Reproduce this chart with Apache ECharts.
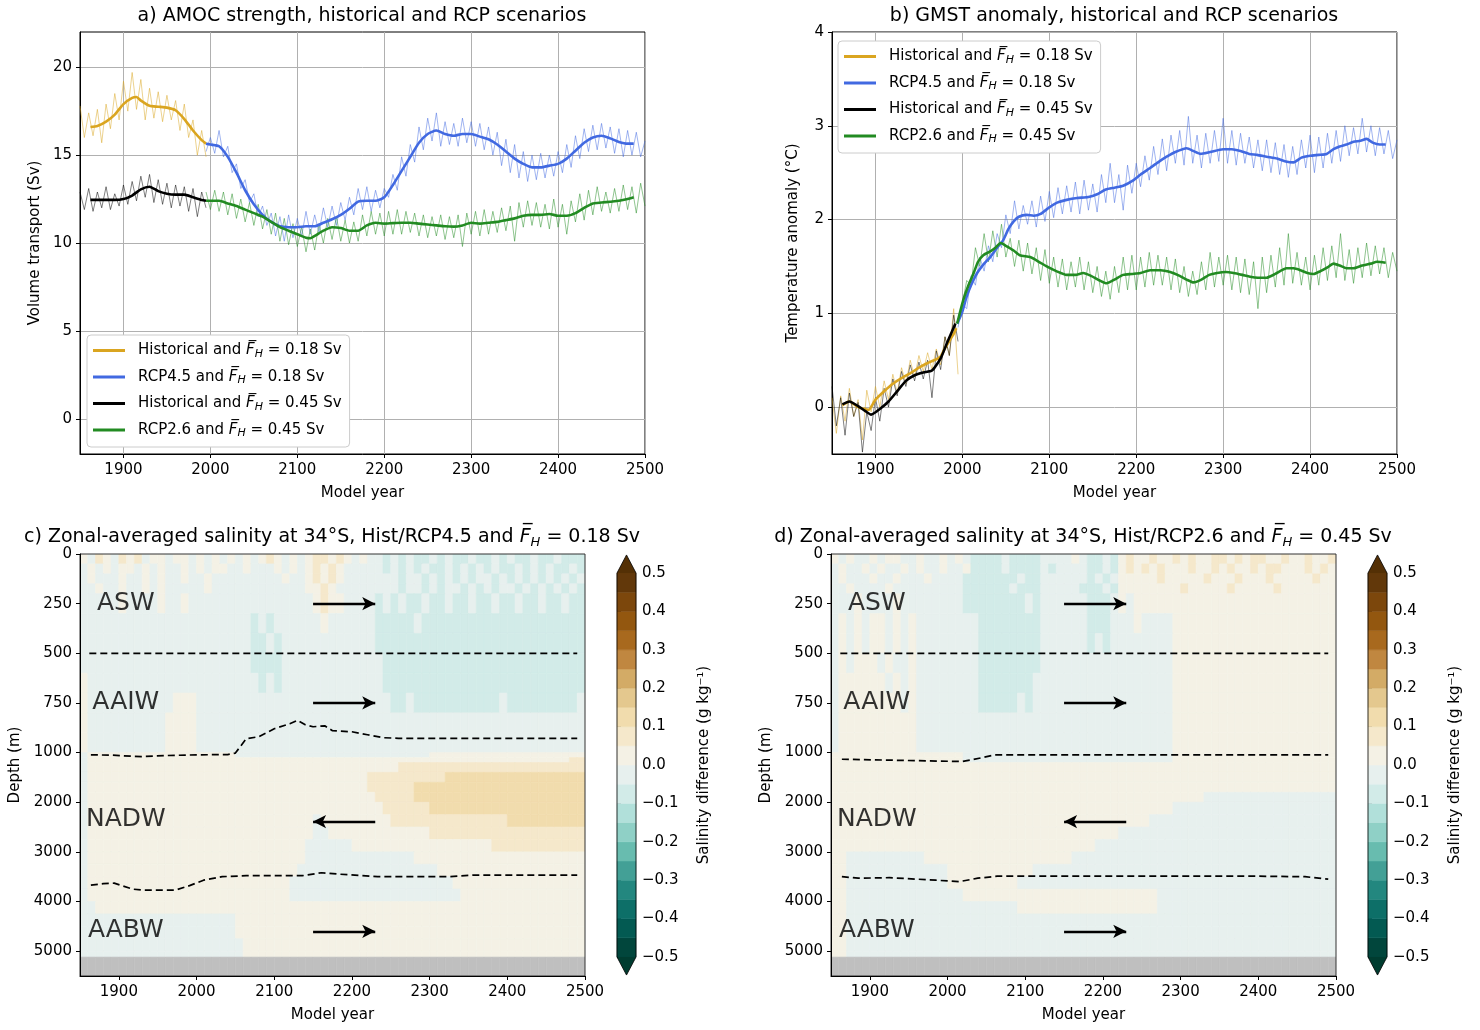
<!DOCTYPE html>
<html>
<head>
<meta charset="utf-8">
<title>AMOC, GMST and salinity at 34S</title>
<script src="https://cdn.jsdelivr.net/npm/echarts@6.0.0/dist/echarts.min.js"></script>
<style>
  html, body { margin: 0; padding: 0; background: #fff; }
  #main { width: 1480px; height: 1030px; }
</style>
</head>
<body>
<div id="main"></div>
<script>
// ---------------- data ----------------
var yearTicks = [1900, 2000, 2100, 2200, 2300, 2400, 2500];
var amocTicks = [0, 5, 10, 15, 20];
var gmstTicks = [0, 1, 2, 3, 4];
var depthTicks = [0, 250, 500, 750, 1000, 2000, 3000, 4000, 5000];
var contourLevels = [-0.5, -0.45, -0.4, -0.35, -0.3, -0.25, -0.2, -0.15, -0.1, -0.05, 0,
                     0.05, 0.1, 0.15, 0.2, 0.25, 0.3, 0.35, 0.4, 0.45, 0.5];

// yearly model output, read every 5 years
var histStart = 1850, rcpStart = 1995, rawStep = 5;

var amocHist018Raw = [17.8, 16.0, 17.4, 16.1, 17.6, 15.7, 17.9, 16.5, 18.5, 17.0, 19.2, 17.5, 19.7, 17.6, 19.3,
                      17.0, 18.8, 17.1, 18.6, 16.9, 18.4, 17.0, 18.1, 16.4, 17.9, 16.0, 17.0, 15.0, 16.4, 14.9];
var amocHist045Raw = [12.9, 11.9, 13.1, 11.8, 12.9, 12.0, 13.2, 11.9, 12.8, 12.1, 13.3, 12.2, 13.5, 12.4, 13.8,
                      12.6, 13.9, 12.3, 13.6, 12.2, 13.4, 12.0, 13.3, 12.1, 13.2, 11.8, 13.1, 11.5, 12.9, 12.0];
var amocRcp45Raw = [
  15.2, 16.0, 15.1, 16.4, 14.9, 15.5, 14.0, 14.5, 13.1, 13.6,
  12.3, 12.8, 11.5, 12.1, 11.0, 11.7, 10.4, 11.5, 10.1, 11.6,
  10.3, 11.4, 10.4, 11.8, 10.5, 11.6, 10.6, 12.0, 10.9, 12.1,
  11.0, 12.3, 11.3, 12.6, 11.6, 13.1, 11.9, 13.2, 11.8, 13.0,
  12.0, 13.1, 12.6, 13.9, 13.0, 14.9, 13.8, 15.6, 14.6, 16.6,
  15.3, 17.1, 15.8, 17.4, 15.5, 16.9, 15.6, 16.8, 15.5, 17.1,
  15.7, 16.9, 15.5, 16.8, 15.3, 16.6, 15.0, 16.3, 14.4, 15.9,
  14.0, 15.6, 13.7, 15.2, 13.5, 15.0, 13.6, 15.1, 13.7, 15.0,
  13.8, 15.2, 14.0, 15.6, 14.3, 16.1, 14.8, 16.5, 15.2, 16.7,
  15.3, 16.8, 15.4, 16.6, 15.1, 16.5, 14.9, 16.4, 15.0, 16.3,
  14.9, 15.8];
var amocRcp26Raw = [
  12.9, 11.9, 13.0, 11.8, 12.9, 11.6, 12.8, 11.4, 12.5, 11.2,
  12.3, 11.0, 12.2, 10.8, 11.9, 10.5, 11.7, 10.1, 11.4, 9.9,
  11.1, 9.8, 10.9, 9.5, 10.8, 9.6, 11.1, 10.0, 11.4, 10.2,
  11.5, 10.1, 11.3, 10.0, 11.2, 10.1, 11.6, 10.4, 11.8, 10.5,
  11.7, 10.4, 11.8, 10.5, 11.9, 10.5, 11.8, 10.6, 11.7, 10.4,
  11.6, 10.3, 11.5, 10.4, 11.6, 10.2, 11.5, 10.3, 11.6, 9.8,
  11.7, 10.5, 11.8, 10.4, 11.9, 10.5, 11.8, 10.6, 12.0, 10.7,
  12.1, 10.1, 12.3, 10.9, 12.4, 11.0, 12.3, 10.9, 12.2, 10.8,
  12.5, 10.9, 12.2, 10.5, 12.4, 11.2, 12.8, 11.3, 13.0, 11.6,
  13.2, 11.8, 12.9, 11.7, 13.1, 11.8, 13.3, 11.9, 13.2, 11.7,
  13.4, 12.1];

var gmstHist018Raw = [0.1, -0.28, 0.12, -0.15, 0.2, -0.1, 0.08, -0.35, 0.18, -0.05, 0.22, 0.0, 0.28, 0.08, 0.35,
                      0.15, 0.42, 0.25, 0.5, 0.32, 0.55, 0.38, 0.58, 0.4, 0.62, 0.45, 0.75, 0.55, 1.05, 0.35];
var gmstHist045Raw = [0.22, -0.2, 0.1, -0.3, 0.15, -0.1, 0.05, -0.48, -0.05, -0.25, 0.1, -0.15, 0.2, 0.0, 0.3,
                      0.12, 0.38, 0.22, 0.45, 0.28, 0.48, 0.3, 0.5, 0.1, 0.6, 0.4, 0.75, 0.55, 0.98, 0.7];
var gmstRcp45Raw = [
  0.85, 1.1, 1.05, 1.4, 1.3, 1.6, 1.45, 1.72, 1.55, 1.85,
  1.7, 2.05, 1.85, 2.2, 1.9, 2.15, 1.95, 2.2, 1.92, 2.25,
  1.98, 2.3, 2.02, 2.34, 2.06, 2.36, 2.08, 2.4, 2.06, 2.42,
  2.1, 2.38, 2.08, 2.48, 2.18, 2.6, 2.18, 2.48, 2.1, 2.58,
  2.28, 2.6, 2.35, 2.68, 2.42, 2.78, 2.48, 2.86, 2.52, 2.9,
  2.6, 2.95, 2.58, 3.1, 2.6, 2.9, 2.55, 2.92, 2.6, 2.95,
  2.62, 3.08, 2.6, 2.95, 2.58, 2.92, 2.6, 2.88, 2.55, 2.85,
  2.52, 2.85, 2.5, 2.82, 2.48, 2.8, 2.45, 2.78, 2.48, 2.85,
  2.55, 2.9, 2.5, 2.88, 2.55, 2.92, 2.6, 2.95, 2.62, 3.0,
  2.68, 2.98, 2.7, 3.08, 2.72, 3.0, 2.68, 2.98, 2.7, 2.95,
  2.65, 2.85];
var gmstRcp26Raw = [
  0.9, 1.1, 1.35, 1.3, 1.7, 1.5, 1.85, 1.55, 1.88, 1.6,
  1.95, 1.6, 1.8, 1.5, 1.78, 1.45, 1.75, 1.42, 1.7, 1.35,
  1.68, 1.32, 1.6, 1.28, 1.58, 1.25, 1.55, 1.28, 1.6, 1.25,
  1.55, 1.22, 1.5, 1.18, 1.45, 1.15, 1.5, 1.22, 1.6, 1.25,
  1.62, 1.25, 1.6, 1.28, 1.65, 1.3, 1.62, 1.3, 1.6, 1.25,
  1.58, 1.22, 1.5, 1.18, 1.45, 1.2, 1.55, 1.25, 1.65, 1.28,
  1.6, 1.3, 1.62, 1.25, 1.6, 1.22, 1.58, 1.2, 1.55, 1.05,
  1.6, 1.22, 1.62, 1.28, 1.7, 1.3, 1.85, 1.32, 1.65, 1.3,
  1.6, 1.25, 1.62, 1.3, 1.7, 1.35, 1.72, 1.38, 1.85, 1.35,
  1.68, 1.32, 1.7, 1.38, 1.75, 1.4, 1.72, 1.42, 1.7, 1.38,
  1.65, 1.45];

// smoothed curves, [year, value]
var amocHist018 = [[1862, 16.6], [1870, 16.65], [1880, 16.9], [1890, 17.3], [1900, 17.9], [1910, 18.25], [1915, 18.3],
  [1920, 18.1], [1930, 17.8], [1940, 17.75], [1950, 17.7], [1960, 17.55], [1970, 17.05], [1980, 16.4], [1990, 15.85], [1995, 15.65]];
var amocHist045 = [[1862, 12.45], [1870, 12.45], [1880, 12.45], [1890, 12.45], [1900, 12.5], [1910, 12.7], [1920, 13.05],
  [1930, 13.2], [1940, 12.95], [1950, 12.8], [1960, 12.75], [1970, 12.75], [1980, 12.6], [1990, 12.45], [1995, 12.4]];
var amocRcp45 = [[1995, 15.65], [2000, 15.6], [2010, 15.5], [2020, 14.9], [2030, 14.0], [2040, 13.0], [2050, 12.2],
  [2060, 11.6], [2070, 11.2], [2080, 10.95], [2090, 10.9], [2100, 10.9], [2110, 10.95], [2120, 10.95], [2130, 11.15],
  [2140, 11.35], [2150, 11.6], [2160, 11.95], [2170, 12.35], [2180, 12.4], [2190, 12.4], [2200, 12.6], [2210, 13.3],
  [2220, 14.1], [2230, 14.9], [2240, 15.7], [2250, 16.2], [2260, 16.4], [2270, 16.2], [2280, 16.1], [2290, 16.2],
  [2300, 16.2], [2310, 16.05], [2320, 15.9], [2330, 15.6], [2340, 15.2], [2350, 14.8], [2360, 14.5], [2370, 14.3],
  [2380, 14.3], [2390, 14.4], [2400, 14.5], [2410, 14.8], [2420, 15.25], [2430, 15.7], [2440, 16.0], [2450, 16.1],
  [2460, 15.95], [2470, 15.75], [2480, 15.65], [2487, 15.65]];
var amocRcp26 = [[1995, 12.4], [2000, 12.4], [2010, 12.4], [2020, 12.25], [2030, 12.1], [2040, 11.9], [2050, 11.7],
  [2060, 11.5], [2070, 11.2], [2080, 10.9], [2090, 10.7], [2100, 10.5], [2110, 10.3], [2115, 10.27], [2120, 10.4],
  [2130, 10.7], [2140, 10.9], [2150, 10.85], [2160, 10.7], [2170, 10.7], [2180, 11.0], [2190, 11.15], [2200, 11.1],
  [2210, 11.13], [2220, 11.15], [2230, 11.15], [2240, 11.1], [2250, 11.05], [2260, 11.0], [2270, 10.95], [2280, 10.93],
  [2290, 11.0], [2300, 11.15], [2310, 11.1], [2320, 11.15], [2330, 11.2], [2340, 11.3], [2350, 11.4], [2360, 11.55],
  [2370, 11.6], [2380, 11.6], [2390, 11.65], [2400, 11.55], [2410, 11.55], [2420, 11.7], [2430, 12.0], [2440, 12.25],
  [2450, 12.3], [2460, 12.35], [2470, 12.4], [2480, 12.5], [2487, 12.6]];

var gmstHist018 = [[1862, 0.02], [1870, 0.06], [1880, 0.0], [1892, -0.03], [1900, 0.08], [1910, 0.17], [1920, 0.25],
  [1930, 0.31], [1940, 0.36], [1950, 0.42], [1960, 0.47], [1970, 0.51], [1975, 0.54], [1980, 0.63], [1990, 0.78], [1993, 0.84]];
var gmstHist045 = [[1862, 0.03], [1870, 0.06], [1880, 0.01], [1888, -0.04], [1895, -0.08], [1905, -0.02], [1915, 0.06],
  [1925, 0.17], [1935, 0.28], [1945, 0.34], [1955, 0.37], [1965, 0.39], [1975, 0.52], [1983, 0.7], [1992, 0.89]];
var gmstRcp45 = [[1994, 0.89], [2000, 1.02], [2005, 1.18], [2010, 1.3], [2017, 1.43], [2025, 1.53], [2032, 1.6],
  [2040, 1.7], [2047, 1.78], [2053, 1.9], [2059, 1.98], [2065, 2.03], [2074, 2.05], [2082, 2.04], [2090, 2.06],
  [2100, 2.13], [2109, 2.18], [2120, 2.21], [2132, 2.23], [2145, 2.24], [2155, 2.27], [2165, 2.32], [2175, 2.34],
  [2185, 2.36], [2197, 2.42], [2205, 2.48], [2216, 2.55], [2225, 2.61], [2235, 2.67], [2245, 2.72], [2258, 2.76],
  [2266, 2.73], [2274, 2.7], [2285, 2.72], [2300, 2.75], [2310, 2.75], [2320, 2.73], [2330, 2.7], [2339, 2.69],
  [2350, 2.67], [2362, 2.65], [2372, 2.62], [2381, 2.61], [2390, 2.66], [2400, 2.68], [2410, 2.69], [2419, 2.7],
  [2427, 2.75], [2434, 2.78], [2442, 2.8], [2450, 2.83], [2458, 2.84], [2465, 2.86], [2472, 2.82], [2480, 2.8], [2487, 2.8]];
var gmstRcp26 = [[1994, 0.89], [2001, 1.14], [2007, 1.3], [2013, 1.43], [2018, 1.55], [2024, 1.62], [2032, 1.66],
  [2038, 1.7], [2044, 1.75], [2050, 1.72], [2059, 1.67], [2066, 1.62], [2078, 1.6], [2088, 1.55], [2097, 1.5],
  [2108, 1.45], [2120, 1.41], [2130, 1.41], [2139, 1.43], [2148, 1.4], [2158, 1.35], [2166, 1.32], [2175, 1.36],
  [2185, 1.41], [2195, 1.42], [2205, 1.43], [2216, 1.46], [2228, 1.46], [2239, 1.44], [2250, 1.4], [2258, 1.36],
  [2266, 1.33], [2275, 1.36], [2284, 1.41], [2293, 1.43], [2303, 1.44], [2312, 1.43], [2322, 1.41], [2331, 1.39],
  [2340, 1.38], [2350, 1.38], [2360, 1.42], [2373, 1.48], [2381, 1.48], [2389, 1.46], [2397, 1.43], [2404, 1.42],
  [2412, 1.45], [2420, 1.49], [2427, 1.53], [2434, 1.51], [2442, 1.48], [2450, 1.48], [2460, 1.51], [2470, 1.53],
  [2477, 1.55], [2487, 1.54]];

// salinity difference fields: 10-year columns from 1850, rows between these depths (m)
var fieldStart = 1850, fieldStep = 10;
var depthEdges = [0, 50, 100, 150, 200, 300, 400, 500, 600, 700, 800, 900, 1000, 1100, 1200, 1400, 1600,
                  1800, 2000, 2250, 2500, 2750, 3000, 3250, 3500, 3750, 4000, 4250, 4500, 4750, 5000, 5120, 5500];
// T: -0.1..-0.05, t: -0.05..0, c: 0..0.05, y: 0.05..0.1, Y: 0.1..0.15, g: sea floor
var levelCode = { T: -0.075, t: -0.025, c: 0.025, y: 0.075, Y: 0.125, g: 99 };

var salinityC = [
  'ctyctycytc ctcctctctc tctcyctctc yycyctcttT tTtTTtTtTT tTTtTtTTtT TtTTT',
  'tctctcctct cttctctcct tctttctctc ycyctttttT tTtTtTTtTt TtTtTTtTtT tTTtT',
  'tctttcttct cttcttcttt ttttttcttc ycyctttttt tTttTtTtTt TttTtTtTtT tTtTt',
  'ttcttcttct ctttttcttt tttttttttc cycttttttt tTttTtTttT tTtTttTtTt TtTtT',
  'tttttctttt cttctttttt tttttttttt cyccttttTt TtTTtTTtTT tTTtTTtTTt TTtTT',
  'tttttttttt tttttttttt ttTtTttttt tcttttttTT TTTtTTTTTT TTTTTTTTTT TTTTT',
  'tttttttttt tttttttttt ttTTtTtttt ttttttttTT TTTTTTTTTT TTTTTTTTTT TTTTT',
  'tttttttttt tttttttttt ttTTTTtttt tttttttttT TTTTTTTTTT TTTTTTTTTT TTTTT',
  'cttttttttt tttttttttt tttTtTtttt tttttttttT TTTTTTTTTT TTTTTTTTTT TTTTT',
  'cttttttttt ttcccttttt tttttttttt tttttttttt TTtTTTTTTT TTTTtTTTTT TTTTt',
  'cttttttttt tccccttttt tttttttttt tttttttttt tttttttttt tttttttttt ttttt',
  'cttttttttt tccccttttt tttttttttt tttttttttt tttttttttt tttttttttt ttttt',
  'tccccccccc cccccccccc tttttttttt tttttttttt tttttccccc cccccccccc ccccc',
  'tccccccccc cccccccccc cccccccccc cccccccccc cccccccccc cccccccccc cccyy',
  'tccccccccc cccccccccc cccccccccc cccccccccc cyyyyyyyyy yyyyyyyyyy yyyyy',
  'tccccccccc cccccccccc cccccccccc cccccccyyy yyyyyyyYYY YYYYYYYYYY YYYYY',
  'tccccccccc cccccccccc cccccccccc cccccccyyy yyyYYYYYYY YYYYYYYYYY YYYYY',
  'tccccccccc cccccccccc cccccccccc ccccccccyy yyyYYYYYYY YYYYYYYYYY YYYYY',
  'tccccccccc cccccccccc cccccccccc cccccccccy yyyyyYYYYY YYYYYYYYYY YYYYY',
  'tccccccccc cccccccccc cccccccccc tccccccccc yyyyyyyyyy yyyyyYYYYY YYYYY',
  'tccccccccc cccccccccc cccccccccc ttcccccccc cccccyyyyy yyyyyyyyyy yyyyy',
  'tccccccccc cccccccccc ccccccccct tttttccccc cccccccccc cccyyyyyyy yyyyy',
  'tccccccccc cccccccccc ccccccccct tttttttttt tttccccccc cccccccccc ccccc',
  'tccccccccc cccccccccc cccccccctt tttttttttt ttttttcccc cccccccccc ccccc',
  'tccccccccc cccccccccc cccccccttt tttttttttt ttttttttcc cccccccccc ccccc',
  'tccccccccc cccccccccc cccccccttt tttttttttt tttttttttc cccccccccc ccccc',
  'ttcccccccc cccccccccc cccccccccc cccccccccc cccccccccc cccccccccc ccccc',
  'tttttttttt tttttttttt cccccccccc cccccccccc cccccccccc cccccccccc ccccc',
  'tttttttttt tttttttttt cccccccccc cccccccccc cccccccccc cccccccccc ccccc',
  'tttttttttt tttttttttt tccccccccc cccccccccc cccccccccc cccccccccc ccccc',
  'tttttttttt tttttttttt tccccccccc cccccccccc cccccccccc cccccccccc ccccc',
  'gggggggggg gggggggggg gggggggggg gggggggggg gggggggggg gggggggggg ggggg'
];
var salinityD = [
  'ctcttctcct tcttctctTT TTtTTTTttt tctTTtTcyc cyccycyccy ycycyyccyc cyccy',
  'tcttctcttc tcttcttcTT TTtTTTTtTt tttTTtTcyc ycycccyccy cyccycyycc cycyc',
  'tctttcttct ttcttttTTT TTTTtTTttt tttTtTtccc ccycccccyc ccycccyccc ccycc',
  'ttcttttctt tttttttTTT TTTtTTTttt ttTTTtTccc cccccycccc cycccccycc ccccc',
  'tttcttttct tttttttTTT TTTTTtTttt tttTTTtctc cccccccccc cccccccccc ccccc',
  'tctctcctct cttttttttT TTTTTTTttt tttTTTtttc ttttcccccc cccccccccc ccccc',
  'tctctcctct cttttttttT TTTTTTTttt tttTtTtttt ttttcccccc cccccccccc ccccc',
  'tctccctctt cttttttttT TTTTTTTttt tttttttttt ttttcccccc cccccccccc ccccc',
  'tcccccctct cttttttttT TTTTTTtttt tttttttttt ttttcccccc cccccccccc ccccc',
  'tcccccccct cttttttttT TTTTtTtttt tttttttttt ttttcccccc cccccccccc ccccc',
  'tccccccccc cttttttttt tttttttttt tttttttttt ttttcccccc cccccccccc ccccc',
  'tccccccccc cttttttttt tttttttttt tttttttttt ttttcccccc cccccccccc ccccc',
  'cccccccccc cccccccttt tttttttttt tttttttttt ttttcccccc cccccccccc ccccc',
  'cccccccccc cccccccttt tttttttttt tttttttttt ttttcccccc cccccccccc ccccc',
  'cccccccccc cccccccccc cccccccccc cccccccccc cccccccccc cccccccccc ccccc',
  'cccccccccc cccccccccc cccccccccc cccccccccc cccccccccc cccccccccc ccccc',
  'cccccccccc cccccccccc cccccccccc cccccccccc cccccccccc cccccccccc ccccc',
  'cccccccccc cccccccccc cccccccccc cccccccccc cccccccctt tttttttttt ttttt',
  'cccccccccc cccccccccc cccccccccc cccccccccc cccctttttt tttttttttt ttttt',
  'cccccccccc cccccccccc cccccccccc cccccccccc cttttttttt tttttttttt ttttt',
  'cccccccccc cccccccccc cccccccccc cccccccttt tttttttttt tttttttttt ttttt',
  'cccccccccc cccccccccc cccccccccc cccctttttt tttttttttt tttttttttt ttttt',
  'cctttttttt ttcccccccc cccccccccc cttttttttt tttttttttt tttttttttt ttttt',
  'cctttttttt tttttccccc cccccctttt tttttttttt tttttttttt tttttttttt ttttt',
  'cctttttttt tttttccccc cccctttttt tttttttttt tttttttttt tttttttttt ttttt',
  'cctttttttt tttttttccc cccccccccc cccccccccc cctttttttt tttttttttt ttttt',
  'cctttttttt tttttttttt ttttcccccc cccccccccc cctttttttt tttttttttt ttttt',
  'cctttttttt tttttttttt tttttttttt tttttttttt tttttttttt tttttttttt ttttt',
  'cctttttttt tttttttttt tttttttttt tttttttttt tttttttttt tttttttttt ttttt',
  'cctttttttt tttttttttt tttttttttt tttttttttt tttttttttt tttttttttt ttttt',
  'cctttttttt tttttttttt tttttttttt tttttttttt tttttttttt tttttttttt ttttt',
  'gggggggggg gggggggggg gggggggggg gggggggggg gggggggggg gggggggggg ggggg'
];

// water mass boundaries, [year, depth]
var bound1C = [[1862, 500], [2490, 500]];
var bound2C = [[1864, 1047], [1890, 1050], [1918, 1075], [1930, 1080], [1960, 1060], [2000, 1045], [2040, 1040],
  [2050, 1010], [2064, 930], [2080, 920], [2100, 880], [2120, 855], [2130, 837], [2140, 860], [2150, 870],
  [2165, 865], [2175, 890], [2200, 895], [2220, 910], [2240, 925], [2260, 928], [2490, 928]];
var bound3C = [[1864, 3670], [1880, 3640], [1894, 3630], [1918, 3750], [1930, 3770], [1973, 3770], [1991, 3680],
  [2009, 3570], [2033, 3500], [2064, 3480], [2136, 3480], [2161, 3420], [2185, 3450], [2233, 3500], [2324, 3500],
  [2355, 3470], [2490, 3470]];
var bound1D = [[1862, 500], [2490, 500]];
var bound2D = [[1864, 1134], [2018, 1180], [2030, 1150], [2061, 1047], [2490, 1047]];
var bound3D = [[1864, 3500], [1885, 3530], [1925, 3520], [1985, 3570], [2015, 3600], [2039, 3530], [2064, 3490],
  [2400, 3490], [2460, 3500], [2490, 3550]];

var waterMasses = ['ASW', 'AAIW', 'NADW', 'AABW'];
var waterMassDepths = [250, 750, 2350, 4580];
var flowDepths = [250, 750, 2390, 4600];
var flowDirection = [1, 1, -1, 1];

// ---------------- styles ----------------
var FONT = 'DejaVu Sans';
var levelColors = ['#01463c', '#035a52', '#0d6f68', '#23877f', '#43a096', '#68bcaf', '#8fd0c6', '#b1e0da',
                   '#d2ebe8', '#e7f0ee', '#f4f1e5', '#f5e8cb', '#f1dcad', '#e4c88e', '#d3ab66', '#c08740',
                   '#a8691e', '#93570f', '#7c470c', '#62380a'];
var extLowColor = '#003c30', extHighColor = '#543005', landColor = '#bfbfbf';
var cbarExtend = 0.047;
var colYellow = '#DAA520', colBlue = '#4169E1', colBlack = '#000000', colGreen = '#228B22';
var TICK_FS = 15, NAME_FS = 15, TITLE_FS = 19;

function depthToAxis(d) { return d <= 1000 ? d : 1000 + (d - 1000) / 4; }
function axisToDepth(v) { return v <= 1000 ? v : 1000 + (v - 1000) * 4; }

function colorFor(v) {
  if (v > 1) return landColor;
  if (v < contourLevels[0]) return extLowColor;
  for (var k = 0; k < levelColors.length; k++) {
    if (v < contourLevels[k + 1]) return levelColors[k];
  }
  return extHighColor;
}

function rawSeries(start, values) {
  return values.map(function (v, i) { return [start + i * rawStep, v]; });
}

function fieldData(rows) {
  var out = [];
  rows.forEach(function (row, r) {
    var s = row.replace(/ /g, '');
    for (var i = 0; i < s.length; i++) {
      out.push([fieldStart + i * fieldStep, fieldStart + (i + 1) * fieldStep,
                depthToAxis(depthEdges[r]), depthToAxis(depthEdges[r + 1]), levelCode[s[i]]]);
    }
  });
  return out;
}

function depthLine(pts) {
  return pts.map(function (p) { return [p[0], depthToAxis(p[1])]; });
}

var legendNames = ['hist018', 'rcp45', 'hist045', 'rcp26'];
var legendText = {
  hist018: ['Historical and ', '0.18'],
  rcp45: ['RCP4.5 and ', '0.18'],
  hist045: ['Historical and ', '0.45'],
  rcp26: ['RCP2.6 and ', '0.45']
};

var FBAR = 'F\u0305';
var EQ = ' = ';
function richTokens(size, lh) {
  return {
    n: { fontSize: size, fontFamily: FONT, color: '#000', lineHeight: lh },
    f: { fontSize: size, fontFamily: FONT, color: '#000', fontStyle: 'italic', lineHeight: lh },
    s: { fontSize: Math.round(size * 0.7), fontFamily: FONT, color: '#000', fontStyle: 'italic',
         lineHeight: lh, verticalAlign: 'bottom' }
  };
}

// ---------------- chart ----------------
var myChart = echarts.init(document.getElementById('main'));

function plainNumber(v) { return String(v); }

function yearAxis(gi, withGrid) {
  return {
    type: 'value', gridIndex: gi, min: 1850, max: 2500,
    name: 'Model year', nameLocation: 'middle', nameGap: 32,
    nameTextStyle: { fontSize: NAME_FS, color: '#000', fontFamily: FONT },
    axisLine: { show: true, onZero: false, lineStyle: { color: '#000', width: 1 } },
    axisTick: { show: true, length: 4, customValues: yearTicks, lineStyle: { color: '#000' } },
    axisLabel: { customValues: yearTicks, fontSize: TICK_FS, color: '#000', margin: 9, fontFamily: FONT,
                 formatter: plainNumber },
    splitLine: { show: withGrid, lineStyle: { color: '#b0b0b0', width: 1 } }
  };
}

function valueAxis(gi, min, max, ticks, name, gap) {
  return {
    type: 'value', gridIndex: gi, min: min, max: max,
    name: name, nameLocation: 'middle', nameGap: gap,
    nameTextStyle: { fontSize: NAME_FS, color: '#000', fontFamily: FONT },
    axisLine: { show: true, onZero: false, lineStyle: { color: '#000', width: 1 } },
    axisTick: { show: true, length: 4, customValues: ticks, lineStyle: { color: '#000' } },
    axisLabel: { customValues: ticks, fontSize: TICK_FS, color: '#000', margin: 8, fontFamily: FONT,
                 formatter: plainNumber },
    splitLine: { show: true, lineStyle: { color: '#b0b0b0', width: 1 } }
  };
}

function depthAxis(gi) {
  return {
    type: 'value', gridIndex: gi, min: 0, max: depthToAxis(5500), inverse: true,
    name: 'Depth (m)', nameLocation: 'middle', nameGap: 57,
    nameTextStyle: { fontSize: NAME_FS, color: '#000', fontFamily: FONT },
    axisLine: { show: true, onZero: false, lineStyle: { color: '#000', width: 1 } },
    axisTick: { show: true, length: 4, customValues: depthTicks.map(depthToAxis), lineStyle: { color: '#000' } },
    axisLabel: {
      customValues: depthTicks.map(depthToAxis), fontSize: TICK_FS, color: '#000', margin: 8, fontFamily: FONT,
      formatter: function (v) { return String(Math.round(axisToDepth(v))); }
    },
    splitLine: { show: false }
  };
}

function cbarXAxis(gi) {
  return { type: 'value', gridIndex: gi, min: 0, max: 1, show: false };
}

function cbarYAxis(gi) {
  return {
    type: 'value', gridIndex: gi, min: -0.5, max: 0.5, interval: 0.1, position: 'right',
    name: 'Salinity difference (g kg\u207B\u00B9)', nameLocation: 'middle', nameGap: 61, nameRotate: 90,
    nameTextStyle: { fontSize: NAME_FS, color: '#000', fontFamily: FONT },
    axisLine: { show: false },
    axisTick: { show: true, length: 4, lineStyle: { color: '#000' } },
    axisLabel: {
      fontSize: TICK_FS, color: '#000', margin: 6, fontFamily: FONT,
      formatter: function (v) { return (Math.abs(v) < 1e-9 ? '0.0' : v.toFixed(1)).replace('-', '\u2212'); }
    },
    splitLine: { show: false }
  };
}

function thinLine(name, gi, data, color) {
  return {
    name: name, type: 'line', xAxisIndex: gi, yAxisIndex: gi, data: data,
    symbol: 'none', showSymbol: false, silent: true, z: 2,
    lineStyle: { color: color, width: 1, opacity: 0.5 }, itemStyle: { color: color }
  };
}

function thickLine(name, gi, data, color) {
  return {
    name: name, type: 'line', xAxisIndex: gi, yAxisIndex: gi, data: data,
    symbol: 'none', showSymbol: false, silent: true, smooth: 0.2, z: 3,
    lineStyle: { color: color, width: 2.6 }, itemStyle: { color: color }
  };
}

function fieldSeries(gi, rows) {
  return {
    type: 'custom', xAxisIndex: gi, yAxisIndex: gi, data: fieldData(rows), z: -1, silent: true, clip: true,
    encode: { x: [0, 1], y: [2, 3] },
    renderItem: function (params, api) {
      var p0 = api.coord([api.value(0), api.value(2)]);
      var p1 = api.coord([api.value(1), api.value(3)]);
      var c = colorFor(api.value(4));
      return {
        type: 'rect',
        shape: { x: p0[0], y: Math.min(p0[1], p1[1]), width: p1[0] - p0[0], height: Math.abs(p1[1] - p0[1]) },
        style: { fill: c, stroke: c, lineWidth: 0.6 }
      };
    }
  };
}

function boundSeries(gi, pts, withMarks) {
  var s = {
    type: 'line', xAxisIndex: gi, yAxisIndex: gi, data: depthLine(pts),
    symbol: 'none', showSymbol: false, silent: true, z: 4,
    lineStyle: { color: '#000', width: 1.7, type: [7, 4] }
  };
  if (withMarks) {
    s.markLine = {
      silent: true, symbol: ['none', 'arrow'], symbolSize: [10, 13],
      label: { show: false },
      lineStyle: { color: '#000', width: 2.4, type: 'solid' },
      data: flowDepths.map(function (d, i) {
        var a = flowDirection[i] > 0 ? 2150 : 2230, b = flowDirection[i] > 0 ? 2230 : 2150;
        return [{ coord: [a, depthToAxis(d)] }, { coord: [b, depthToAxis(d)] }];
      })
    };
  }
  return s;
}

function labelSeries(gi) {
  return {
    type: 'scatter', xAxisIndex: gi, yAxisIndex: gi, silent: true, z: 5,
    symbolSize: 1, itemStyle: { color: 'rgba(0,0,0,0)' },
    label: { show: true, position: 'inside', formatter: '{b}', fontSize: 25, color: '#000',
             textBorderWidth: 0, fontFamily: FONT },
    data: waterMasses.map(function (n, i) { return { name: n, value: [1909, depthToAxis(waterMassDepths[i])] }; })
  };
}

function colorbarSeries(gi) {
  var data = [];
  for (var k = 0; k < levelColors.length; k++) data.push([contourLevels[k], contourLevels[k + 1], k]);
  data.push([-0.5, -0.5, -1]);
  data.push([0.5, 0.5, 20]);
  data.push([-0.5, 0.5, 99]);
  return {
    type: 'custom', xAxisIndex: gi, yAxisIndex: gi, data: data, silent: true, clip: false, z: 3,
    encode: { y: [0, 1] },
    renderItem: function (params, api) {
      var lo = api.value(0), hi = api.value(1), k = api.value(2);
      var c = function (x, y) { return api.coord([x, y]); };
      if (k === 99) {
        return {
          type: 'polygon',
          shape: { points: [c(0, 0.5), c(0.5, 0.5 + cbarExtend), c(1, 0.5), c(1, -0.5), c(0.5, -0.5 - cbarExtend), c(0, -0.5)] },
          style: { fill: 'none', stroke: '#000', lineWidth: 0.8 }
        };
      }
      if (k === -1) {
        return { type: 'polygon', shape: { points: [c(0, -0.5), c(1, -0.5), c(0.5, -0.5 - cbarExtend)] },
                 style: { fill: extLowColor } };
      }
      if (k === 20) {
        return { type: 'polygon', shape: { points: [c(0, 0.5), c(1, 0.5), c(0.5, 0.5 + cbarExtend)] },
                 style: { fill: extHighColor } };
      }
      var p0 = c(0, hi), p1 = c(1, lo);
      return {
        type: 'rect', shape: { x: p0[0], y: p0[1], width: p1[0] - p0[0], height: p1[1] - p0[1] },
        style: { fill: levelColors[k], stroke: levelColors[k], lineWidth: 0.5 }
      };
    }
  };
}

function legendFor(left, top) {
  return {
    orient: 'vertical', left: left, top: top, selectedMode: false,
    data: legendNames, icon: 'rect', itemWidth: 32, itemHeight: 3, itemGap: 10,
    padding: [8, 8, 8, 6], backgroundColor: '#fff', borderColor: '#cccccc', borderWidth: 1, borderRadius: 4,
    formatter: function (name) {
      var p = legendText[name];
      return '{n|' + p[0] + '}{f|' + FBAR + '}{s|H}{n|' + EQ + p[1] + ' Sv}';
    },
    textStyle: { fontSize: 15, color: '#000', fontFamily: FONT, padding: [0, 0, 0, 8], rich: richTokens(15, 18) }
  };
}

function titleText(x, y, plain, pre, post) {
  var text = plain ? '{n|' + plain + '}' : '{n|' + pre + '}{f|' + FBAR + '}{s|H}{n|' + post + '}';
  return {
    type: 'text', x: x, y: y, silent: true,
    style: { text: text, align: 'center', verticalAlign: 'middle', rich: richTokens(TITLE_FS, 24) }
  };
}

var option = {
  animation: false,
  backgroundColor: '#fff',
  textStyle: { fontFamily: FONT },
  grid: [
    { left: 80, top: 32, width: 565, height: 422, show: true, borderColor: '#000', borderWidth: 1, outerBoundsMode: 'none' },
    { left: 832, top: 32, width: 565, height: 422, show: true, borderColor: '#000', borderWidth: 1, outerBoundsMode: 'none' },
    { left: 80, top: 554, width: 505, height: 422, show: true, borderColor: '#333', borderWidth: 1, outerBoundsMode: 'none' },
    { left: 831, top: 554, width: 505, height: 422, show: true, borderColor: '#333', borderWidth: 1, outerBoundsMode: 'none' },
    { left: 617, top: 573, width: 19, height: 384, show: false, outerBoundsMode: 'none' },
    { left: 1368, top: 573, width: 19, height: 384, show: false, outerBoundsMode: 'none' }
  ],
  xAxis: [yearAxis(0, true), yearAxis(1, true), yearAxis(2, false), yearAxis(3, false), cbarXAxis(4), cbarXAxis(5)],
  yAxis: [
    valueAxis(0, -2, 22, amocTicks, 'Volume transport (Sv)', 37),
    valueAxis(1, -0.5, 4, gmstTicks, 'Temperature anomaly (\u00B0C)', 31),
    depthAxis(2), depthAxis(3), cbarYAxis(4), cbarYAxis(5)
  ],
  legend: [legendFor(87, 335), legendFor(838, 41)],
  graphic: [
    titleText(362, 16, 'a) AMOC strength, historical and RCP scenarios'),
    titleText(1114, 16, 'b) GMST anomaly, historical and RCP scenarios'),
    titleText(332, 537, null, 'c) Zonal-averaged salinity at 34\u00B0S, Hist/RCP4.5 and ', EQ + '0.18 Sv'),
    titleText(1083, 537, null, 'd) Zonal-averaged salinity at 34\u00B0S, Hist/RCP2.6 and ', EQ + '0.45 Sv')
  ],
  series: [
    // a) AMOC
    thinLine('hist018 raw', 0, rawSeries(histStart, amocHist018Raw), colYellow),
    thinLine('rcp45 raw', 0, rawSeries(rcpStart, amocRcp45Raw), colBlue),
    thinLine('hist045 raw', 0, rawSeries(histStart, amocHist045Raw), colBlack),
    thinLine('rcp26 raw', 0, rawSeries(rcpStart, amocRcp26Raw), colGreen),
    thickLine('hist018', 0, amocHist018, colYellow),
    thickLine('rcp45', 0, amocRcp45, colBlue),
    thickLine('hist045', 0, amocHist045, colBlack),
    thickLine('rcp26', 0, amocRcp26, colGreen),
    // b) GMST
    thinLine('hist018 raw', 1, rawSeries(histStart, gmstHist018Raw), colYellow),
    thinLine('rcp45 raw', 1, rawSeries(rcpStart, gmstRcp45Raw), colBlue),
    thinLine('hist045 raw', 1, rawSeries(histStart, gmstHist045Raw), colBlack),
    thinLine('rcp26 raw', 1, rawSeries(rcpStart, gmstRcp26Raw), colGreen),
    thickLine('hist018', 1, gmstHist018, colYellow),
    thickLine('rcp45', 1, gmstRcp45, colBlue),
    thickLine('hist045', 1, gmstHist045, colBlack),
    thickLine('rcp26', 1, gmstRcp26, colGreen),
    // c) salinity, RCP4.5
    fieldSeries(2, salinityC),
    boundSeries(2, bound1C, true),
    boundSeries(2, bound2C, false),
    boundSeries(2, bound3C, false),
    labelSeries(2),
    colorbarSeries(4),
    // d) salinity, RCP2.6
    fieldSeries(3, salinityD),
    boundSeries(3, bound1D, true),
    boundSeries(3, bound2D, false),
    boundSeries(3, bound3D, false),
    labelSeries(3),
    colorbarSeries(5)
  ]
};

myChart.setOption(option);
window.addEventListener('resize', function () {
  myChart.resize();
});
</script>
</body>
</html>
